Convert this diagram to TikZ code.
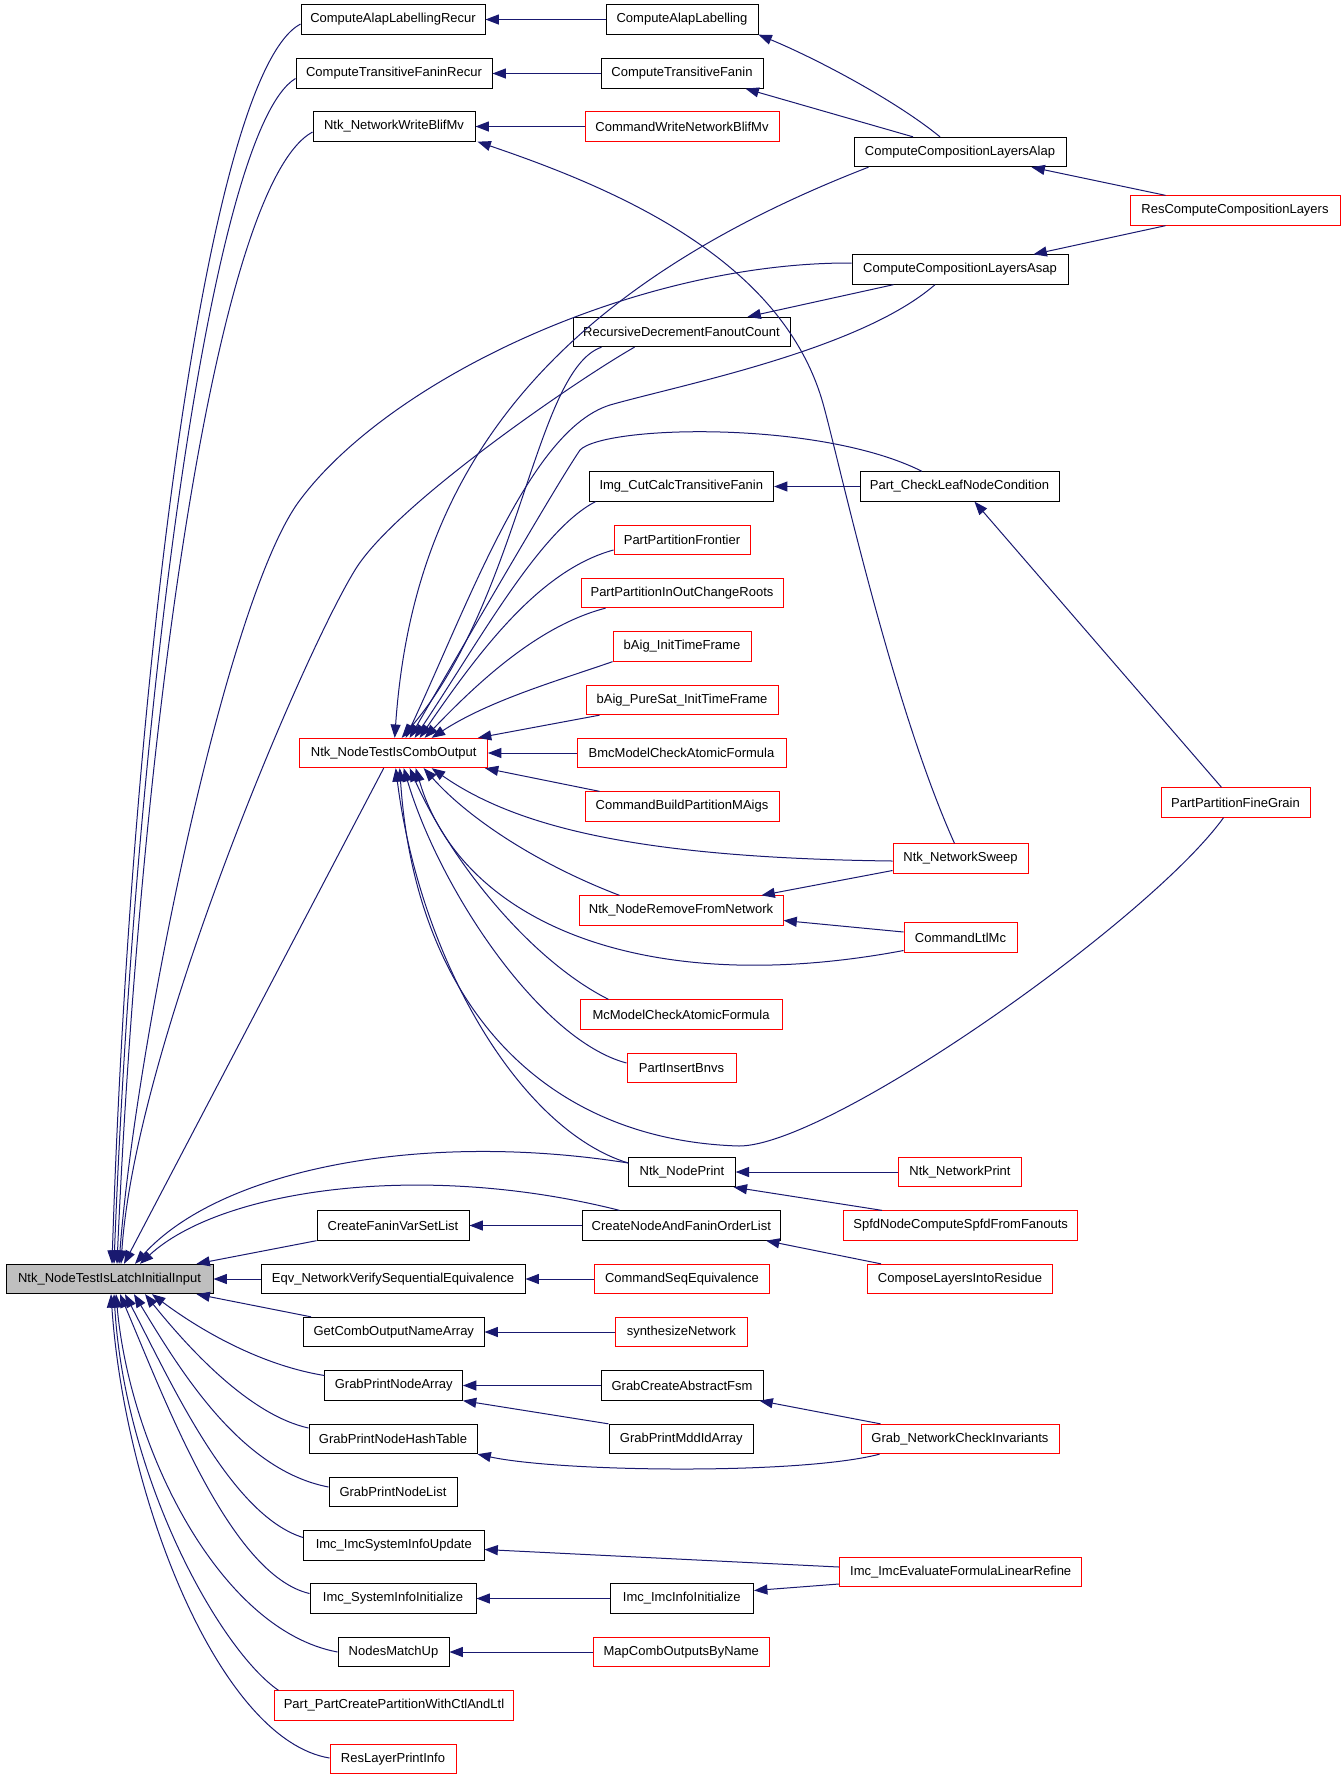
\documentclass[tikz,border=0pt]{standalone}
\usepackage{fontspec}
\setmainfont{Liberation Sans}
\usetikzlibrary{arrows.meta,calc}
\definecolor{edgeblue}{RGB}{25,25,112}
\definecolor{mainfill}{RGB}{191,191,191}
\begin{document}
\begin{tikzpicture}[x=0.75pt,y=-0.75pt,
  box/.style={draw=black, line width=0.75pt, inner xsep=0pt, inner ysep=0pt, minimum height=22pt, font=\fontsize{9.75}{11}\selectfont, anchor=center},
  redbox/.style={box, draw=red},
  mainbox/.style={box, fill=mainfill},
  bw/.style={minimum width=#1*0.75pt},
  cedge/.style={draw=edgeblue, line width=0.75pt, {Triangle[length=10pt,width=7.5pt]}-}]
\fill[white] (0,0) rectangle (1341,1779);
\useasboundingbox (0,0) rectangle (1341,1779);

% main node
\node[mainbox, bw=207] (L) at (109.5,1279) {Ntk\_NodeTestIsLatchInitialInput};

% column 1
\node[box, bw=184] (carr) at (393,19.5) {ComputeAlapLabellingRecur};
\node[box, bw=196] (ctfr) at (394,73.5) {ComputeTransitiveFaninRecur};
\node[box, bw=162] (nwb) at (394,126.5) {Ntk\_NetworkWriteBlifMv};
\node[redbox, bw=187.5] (nco) at (393.7,753) {Ntk\_NodeTestIsCombOutput};
\node[box, bw=152] (cfvs) at (393,1225.5) {CreateFaninVarSetList};
\node[box, bw=264] (eqv) at (393,1279) {Eqv\_NetworkVerifySequentialEquivalence};
\node[box, bw=180.4] (gcon) at (393.8,1332) {GetCombOutputNameArray};
\node[box, bw=137.5] (gpna) at (393.7,1385.5) {GrabPrintNodeArray};
\node[box, bw=168] (gpnh) at (393,1439) {GrabPrintNodeHashTable};
\node[box, bw=128] (gpnl) at (393,1492) {GrabPrintNodeList};
\node[box, bw=180.4] (isiu) at (393.8,1545.5) {Imc\_ImcSystemInfoUpdate};
\node[box, bw=166] (sii) at (393,1598.5) {Imc\_SystemInfoInitialize};
\node[box, bw=111] (nmu) at (393.5,1652) {NodesMatchUp};
\node[redbox, bw=239] (ppc) at (394,1705.5) {Part\_PartCreatePartitionWithCtlAndLtl};
\node[redbox, bw=126] (rlpi) at (393,1759) {ResLayerPrintInfo};

% column 2
\node[box, bw=152] (cal) at (682,19.5) {ComputeAlapLabelling};
\node[box, bw=162] (ctf) at (682,73.5) {ComputeTransitiveFanin};
\node[redbox, bw=194] (cwnb) at (682,126.5) {CommandWriteNetworkBlifMv};
\node[box, bw=217] (rdfc) at (681.5,332) {RecursiveDecrementFanoutCount};
\node[box, bw=184.6] (img) at (681.3,486.5) {Img\_CutCalcTransitiveFanin};
\node[redbox, bw=136] (ppf) at (682,540) {PartPartitionFrontier};
\node[redbox, bw=202] (ppio) at (682,593) {PartPartitionInOutChangeRoots};
\node[redbox, bw=138] (bait) at (682,646.5) {bAig\_InitTimeFrame};
\node[redbox, bw=192] (bps) at (682,700) {bAig\_PureSat\_InitTimeFrame};
\node[redbox, bw=209] (bmc) at (681.5,753) {BmcModelCheckAtomicFormula};
\node[redbox, bw=194] (cbp) at (682,806.5) {CommandBuildPartitionMAigs};
\node[redbox, bw=204] (nrfn) at (681,910.5) {Ntk\_NodeRemoveFromNetwork};
\node[redbox, bw=202] (mcm) at (681,1014.5) {McModelCheckAtomicFormula};
\node[redbox, bw=109] (pib) at (681.5,1068) {PartInsertBnvs};
\node[box, bw=106.4] (np) at (682,1172) {Ntk\_NodePrint};
\node[box, bw=198.6] (cnfo) at (681.3,1225.5) {CreateNodeAndFaninOrderList};
\node[redbox, bw=175.6] (cse) at (682,1279) {CommandSeqEquivalence};
\node[redbox, bw=131.4] (syn) at (681.3,1332) {synthesizeNetwork};
\node[box, bw=162] (gcaf) at (682,1385.5) {GrabCreateAbstractFsm};
\node[box, bw=144.6] (gpmi) at (681.3,1439) {GrabPrintMddIdArray};
\node[box, bw=143.6] (iii) at (681.8,1598.5) {Imc\_ImcInfoInitialize};
\node[redbox, bw=176.6] (mcobn) at (681.3,1652) {MapCombOutputsByName};

% column 3
\node[box, bw=212] (ccla) at (960,152) {ComputeCompositionLayersAlap};
\node[box, bw=216] (ccls) at (960,269.5) {ComputeCompositionLayersAsap};
\node[box, bw=199] (pcln) at (959.5,486.5) {Part\_CheckLeafNodeCondition};
\node[redbox, bw=135] (nns) at (960.5,858.5) {Ntk\_NetworkSweep};
\node[redbox, bw=113] (cltl) at (960.5,937.5) {CommandLtlMc};
\node[redbox, bw=123.6] (nnp) at (960,1172) {Ntk\_NetworkPrint};
\node[redbox, bw=234.5] (spfd) at (960.7,1225.5) {SpfdNodeComputeSpfdFromFanouts};
\node[redbox, bw=185] (clir) at (960,1279) {ComposeLayersIntoResidue};
\node[redbox, bw=198] (gnci) at (960,1439) {Grab\_NetworkCheckInvariants};
\node[redbox, bw=242.5] (iefl) at (960.7,1572) {Imc\_ImcEvaluateFormulaLinearRefine};

% column 4
\node[redbox, bw=210] (rccl) at (1235,210.5) {ResComputeCompositionLayers};
\node[redbox, bw=149] (ppfg) at (1235.5,802.5) {PartPartitionFineGrain};

% horizontal edges
\draw[cedge] (carr.east) -- (cal.west);
\draw[cedge] (ctfr.east) -- (ctf.west);
\draw[cedge] (nwb.east) -- (cwnb.west);
\draw[cedge] (nco.east) -- (bmc.west);
\draw[cedge] (img.east) -- (pcln.west);
\draw[cedge] (np.east) -- (nnp.west);
\draw[cedge] (cfvs.east) -- (cnfo.west);
\draw[cedge] (L.east) -- (eqv.west);
\draw[cedge] (eqv.east) -- (cse.west);
\draw[cedge] (gcon.east) -- (syn.west);
\draw[cedge] (gpna.east) -- (gcaf.west);
\draw[cedge] (sii.east) -- (iii.west);
\draw[cedge] (nmu.east) -- (mcobn.west);

% other short edges
\draw[cedge] (cal.south east) .. controls (815,58) and (895,100) .. ($(ccla.north)+(-20,0)$);
\draw[cedge] ($(ctf.south east)+(-18,0)$) -- ($(ccla.north)+(-47,0)$);
\draw[cedge] ($(ccla.south east)+(-35,0)$) -- ($(rccl.north west)+(36,0)$);
\draw[cedge] ($(ccls.north east)+(-35,0)$) -- ($(rccl.south west)+(36,0)$);
\draw[cedge] ($(rdfc.north east)+(-43,0)$) -- ($(ccls.south west)+(42,0)$);
\draw[cedge] ($(pcln.south)+(15,0)$) -- ($(ppfg.north)+(-14,0)$);
\draw[cedge] ($(nrfn.north east)+(-22,0)$) -- ($(nns.west)+(0,12)$);
\draw[cedge] ($(nrfn.east)+(0,10)$) -- ($(cltl.west)+(0,-5.5)$);
\draw[cedge] ($(np.south east)+(-2,0)$) -- ($(spfd.north west)+(39,0)$);
\draw[cedge] ($(cnfo.south east)+(-15,0)$) -- ($(clir.north west)+(14,0)$);
\draw[cedge] (gpna.south east) -- (gpmi.north west);
\draw[cedge] ($(gcaf.south east)+(-4,0)$) -- ($(gnci.north west)+(20,0)$);
\draw[cedge] (gpnh.south east) .. controls (560,1472) and (800,1475) .. ($(gnci.south west)+(19,0)$);
\draw[cedge] ($(isiu.east)+(0,4)$) -- ($(iefl.west)+(0,-5)$);
\draw[cedge] ($(iii.east)+(0,-8)$) -- ($(iefl.west)+(0,12)$);
\draw[cedge] ($(nwb.south east)+(2,0)$) .. controls (620,190) and (780,260) .. (822,400) .. controls (836,447) and (890,700) .. ($(nns.north)+(-6,0)$);

% edges into main node, top
\draw[cedge] ($(L.north)+(2.5,0)$) .. controls (130,700) and (205,75) .. ($(carr.west)+(0,4.5)$);
\draw[cedge] ($(L.north)+(4.5,0)$) .. controls (135,720) and (210,130) .. ($(ctfr.west)+(0,5)$);
\draw[cedge] ($(L.north)+(7.5,0)$) .. controls (140,740) and (215,185) .. ($(nwb.west)+(0,5.5)$);
\draw[cedge] ($(L.north)+(9.5,0)$) .. controls (135,1050) and (226,598) .. (300,500) .. controls (392,377) and (640,262) .. ($(ccls.west)+(0,-6.5)$);
\draw[cedge] ($(L.north)+(11.5,0)$) .. controls (135,1050) and (301,658) .. (355,570) .. controls (395,504) and (580,378) .. ($(rdfc.south)+(-47,0)$);
\draw[cedge] ($(L.north)+(14.5,0)$) -- ($(nco.south)+(-10,0)$);
\draw[cedge] ($(L.north)+(25.5,0)$) .. controls (220,1170) and (420,1130) .. ($(np.west)+(0,-9)$);
\draw[cedge] ($(L.north)+(30.5,0)$) .. controls (220,1190) and (420,1160) .. ($(cnfo.north west)+(38,0)$);
\draw[cedge] ($(L.north east)+(-17,0)$) -- (cfvs.south west);

% edges into main node, bottom
\draw[cedge] ($(L.south east)+(-17,0)$) -- ($(gcon.north west)+(8,0)$);
\draw[cedge] ($(L.south)+(42.5,0)$) .. controls (200,1330) and (260,1365) .. ($(gpna.west)+(0,-10)$);
\draw[cedge] ($(L.south)+(35.5,0)$) .. controls (190,1350) and (250,1415) .. ($(gpnh.west)+(0,-11)$);
\draw[cedge] ($(L.south)+(24.5,0)$) .. controls (180,1370) and (240,1470) .. ($(gpnl.west)+(0,-5)$);
\draw[cedge] ($(L.south)+(15.5,0)$) .. controls (170,1380) and (230,1515) .. ($(isiu.west)+(0,-8)$);
\draw[cedge] ($(L.south)+(10.5,0)$) .. controls (165,1400) and (230,1575) .. ($(sii.west)+(0,-5)$);
\draw[cedge] ($(L.south)+(6.5,0)$) .. controls (130,1450) and (220,1630) .. (nmu.west);
\draw[cedge] ($(L.south)+(4.5,0)$) .. controls (125,1480) and (220,1650) .. ($(ppc.north west)+(4.5,0)$);
\draw[cedge] ($(L.south)+(1.5,0)$) .. controls (125,1500) and (220,1740) .. ($(rlpi.west)+(0,-1)$);

% edges into Ntk_NodeTestIsCombOutput, top
\draw[cedge] ($(nco.north)+(1,0)$) .. controls (410,520) and (500,310) .. ($(ccla.south west)+(15,0)$);
\draw[cedge] ($(nco.north)+(8,0)$) .. controls (520,600) and (535,370) .. ($(rdfc.south)+(-80,0)$);
\draw[cedge] ($(nco.north)+(12,0)$) .. controls (470,600) and (530,430) .. (610,405) .. controls (680,385) and (860,350) .. ($(ccls.south)+(-25,0)$);
\draw[cedge] ($(nco.north)+(16,0)$) .. controls (520,548) and (560,480) .. (580,450) .. controls (605,425) and (820,420) .. ($(pcln.north)+(-37.5,0)$);
\draw[cedge] ($(nco.north)+(21,0)$) .. controls (480,640) and (540,530) .. ($(img.south west)+(7,0)$);
\draw[cedge] ($(nco.north)+(26,0)$) .. controls (480,650) and (540,570) .. ($(ppf.west)+(0,10)$);
\draw[cedge] ($(nco.north)+(31,0)$) .. controls (480,680) and (540,625) .. ($(ppio.south west)+(25,0)$);
\draw[cedge] ($(nco.north)+(38,0)$) .. controls (490,700) and (560,680) .. (bait.south west);
\draw[cedge] ($(nco.north east)+(-10,0)$) -- ($(bps.south west)+(14,0)$);
\draw[cedge] ($(nco.south east)+(-3,0)$) -- ($(cbp.north west)+(15,0)$);

% edges into Ntk_NodeTestIsCombOutput, bottom
\draw[cedge] ($(nco.south)+(2,0)$) .. controls (420,960) and (520,1130) .. ($(np.west)+(0,-9)$);
\draw[cedge] ($(nco.south)+(6,0)$) .. controls (415,1000) and (540,1140) .. (739,1146) .. controls (830,1146) and (1150,920) .. ($(ppfg.south)+(-12,0)$);
\draw[cedge] ($(nco.south)+(10,0)$) .. controls (440,890) and (540,1040) .. ($(pib.west)+(0,-5)$);
\draw[cedge] ($(nco.south)+(16,0)$) .. controls (450,860) and (530,960) .. ($(mcm.north west)+(29,0)$);
\draw[cedge] ($(nco.south)+(22,0)$) .. controls (460,920) and (640,1000) .. ($(cltl.west)+(0,13)$);
\draw[cedge] ($(nco.south)+(30,0)$) .. controls (470,820) and (540,865) .. ($(nrfn.north west)+(41,0)$);
\draw[cedge] ($(nco.south)+(38,0)$) .. controls (520,830) and (650,858) .. ($(nns.west)+(0,2.5)$);
\end{tikzpicture}
\end{document}
